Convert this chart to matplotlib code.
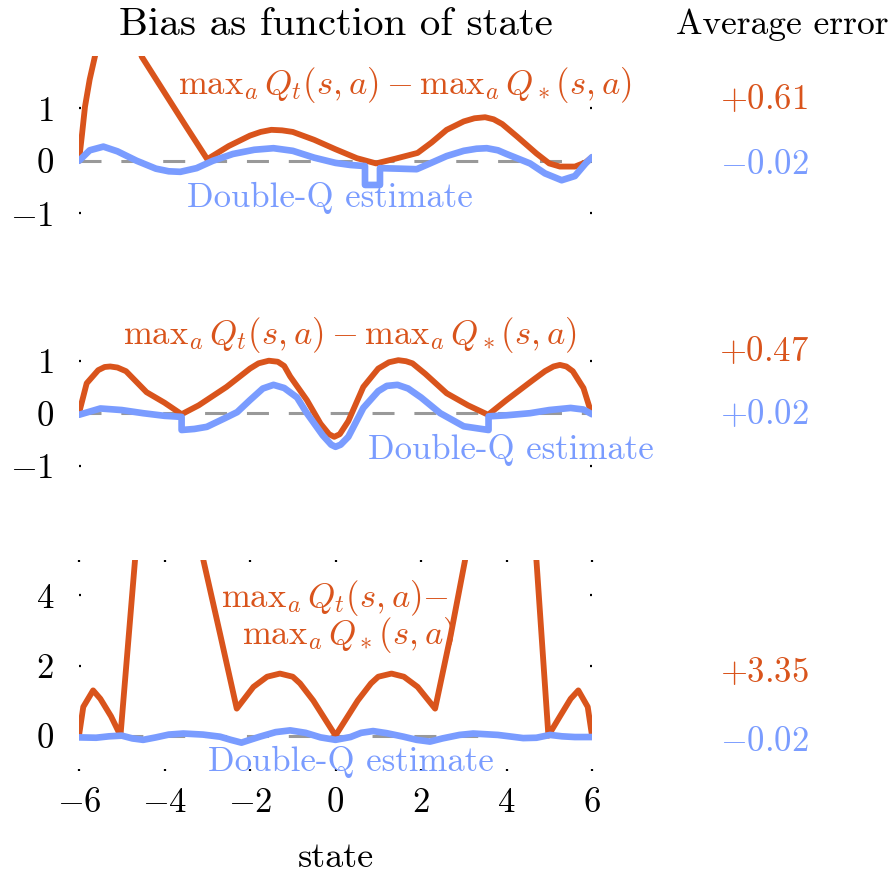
import matplotlib
matplotlib.use('Agg')
import matplotlib.pyplot as plt

plt.rcParams['font.family'] = 'serif'
plt.rcParams['font.serif'] = ['cmr10']
plt.rcParams['mathtext.fontset'] = 'cm'
plt.rcParams['axes.formatter.use_mathtext'] = True
plt.rcParams['axes.unicode_minus'] = True

orange = '#d9541c'
blue = '#7a9cff'

# panel 1 (bias)
x1_orange = [-6.0, -5.93, -5.86, -5.75, -5.63, -5.5, -5.2, -4.9, -4.53, -4.0, -3.5, -3.0, -2.5, -2.0, -1.75, -1.5, -1.25,
             -1.0, -0.5, 0.0, 0.5, 0.95, 1.4, 1.92, 2.25, 2.6, 3.0, 3.25, 3.5, 3.7, 3.9, 4.25, 4.7, 5.0, 5.25, 5.6, 5.85, 6.0]
y1_orange = [0.0, 0.5, 1.03, 1.55, 1.98, 2.4, 3.0, 2.9, 1.98, 1.3, 0.66, 0.03, 0.28, 0.48, 0.55, 0.59, 0.58,
             0.55, 0.4, 0.22, 0.05, -0.05, 0.04, 0.15, 0.35, 0.59, 0.75, 0.81, 0.83, 0.79, 0.7, 0.46, 0.14, -0.05, -0.11, -0.11, -0.03, 0.07]
x1_blue = [-6.0, -5.75, -5.43, -5.1, -4.65, -4.2, -3.9, -3.63, -3.25, -2.87, -2.4, -1.9, -1.45, -1.0, -0.5, 0.0, 0.35,
           0.69, 0.69, 1.04, 1.04, 1.5, 1.9, 2.21, 2.6, 3.0, 3.3, 3.54, 3.8, 4.0, 4.55, 4.9, 5.29, 5.6, 5.85, 6.0]
y1_blue = [0.0, 0.2, 0.27, 0.18, 0.0, -0.15, -0.2, -0.21, -0.14, 0.0, 0.13, 0.21, 0.24, 0.19, 0.06, -0.04, -0.08,
           -0.1, -0.46, -0.46, -0.14, -0.15, -0.16, -0.05, 0.09, 0.19, 0.23, 0.24, 0.2, 0.13, -0.05, -0.24, -0.37, -0.29, -0.05, 0.07]

# panel 2
x2_orange = [-6.0, -5.82, -5.55, -5.4, -5.27, -5.1, -4.9, -4.42, -4.0, -3.6, -3.2, -2.55, -2.0, -1.8, -1.56, -1.35, -1.2,
             -1.06, -0.67, -0.35, -0.15, -0.03, 0.1, 0.3, 0.65, 1.0, 1.25, 1.47, 1.65, 1.8, 2.1, 2.6, 3.1, 3.57, 4.0,
             4.6, 4.9, 5.1, 5.25, 5.4, 5.55, 5.8, 5.95, 6.0]
y2_orange = [0.0, 0.57, 0.82, 0.88, 0.89, 0.87, 0.8, 0.4, 0.2, -0.02, 0.15, 0.5, 0.85, 0.95, 1.0, 0.98, 0.9,
             0.7, 0.25, -0.2, -0.4, -0.45, -0.4, -0.15, 0.5, 0.85, 0.97, 1.01, 0.99, 0.95, 0.75, 0.38, 0.15, -0.03, 0.25,
             0.62, 0.8, 0.89, 0.92, 0.89, 0.8, 0.48, 0.09, 0.03]
x2_blue = [-6.0, -5.5, -5.0, -4.5, -4.0, -3.6, -3.6, -3.3, -3.01, -2.6, -2.3, -2.0, -1.7, -1.45, -1.2, -0.9, -0.67,
           -0.3, -0.1, 0.0, 0.12, 0.3, 0.65, 1.0, 1.2, 1.45, 1.7, 2.0, 2.45, 3.0, 3.58, 3.58, 4.0, 4.55, 5.0, 5.5, 5.8, 6.0]
y2_blue = [-0.03, 0.09, 0.06, 0.0, -0.05, -0.07, -0.32, -0.3, -0.26, -0.1, 0.02, 0.25, 0.47, 0.54, 0.48, 0.3, 0.0,
           -0.42, -0.6, -0.64, -0.6, -0.45, 0.1, 0.42, 0.52, 0.54, 0.47, 0.3, 0.0, -0.25, -0.32, -0.06, -0.04, 0.0, 0.06, 0.1, 0.07, -0.02]

# panel 3
x3_orange = [-6.0, -5.9, -5.67, -5.5, -5.25, -5.03, -4.69, -4.5, -3.8, -3.3, -3.09, -2.7, -2.31, -1.92, -1.6, -1.3,
             -1.0, -0.83, -0.52, -0.26, 0.0, 0.26, 0.52, 0.83, 1.0, 1.31, 1.6, 1.92, 2.33, 2.7, 3.03, 3.3, 3.8,
             4.5, 4.7, 4.98, 5.25, 5.5, 5.68, 5.9, 6.0]
y3_orange = [0.0, 0.82, 1.29, 1.05, 0.55, 0.0, 5.0, 8.0, 12.0, 8.0, 5.0, 2.9, 0.77, 1.39, 1.68, 1.77,
             1.68, 1.49, 1.0, 0.5, 0.0, 0.5, 1.0, 1.49, 1.68, 1.77, 1.68, 1.39, 0.77, 2.9, 5.0, 8.0, 12.0,
             8.0, 5.0, 0.0, 0.55, 1.05, 1.29, 0.82, 0.0]
x3_blue = [-6.0, -5.6, -5.3, -5.0, -4.75, -4.5, -4.2, -3.9, -3.56, -3.1, -2.7, -2.45, -2.2, -2.0, -1.77, -1.4, -1.06,
           -0.7, -0.35, 0.0, 0.35, 0.6, 0.88, 1.2, 1.59, 1.9, 2.21, 2.5, 2.9, 3.22, 3.8, 4.39, 4.7, 5.02, 5.3, 5.6, 6.0]
y3_blue = [-0.05, -0.06, -0.02, 0.0, -0.08, -0.12, -0.05, 0.03, 0.06, 0.03, -0.03, -0.12, -0.2, -0.12, -0.03, 0.1, 0.15,
           0.08, -0.05, -0.12, -0.04, 0.08, 0.13, 0.07, -0.03, -0.12, -0.17, -0.08, 0.02, 0.06, 0.02, -0.07, -0.06, 0.02, -0.02, -0.04, -0.04]

avg_orange = ['+0.61', '+0.47', '+3.35']
avg_blue = ['-0.02', '+0.02', '-0.02']

W, H = 892, 875
fig = plt.figure(figsize=(W / 100, H / 100), dpi=100)
fs = 25

def px(x, y):       # pixel position -> figure fraction
    return x / W, 1 - y / H

def panel(top, bottom, ylim, yticks):
    l, b = px(79, bottom)
    ax = fig.add_axes([l, b, 513 / W, (bottom - top) / H])
    ax.set_xlim(-6, 6)
    ax.set_ylim(*ylim)
    ax.set_yticks(yticks)
    for s in ax.spines.values():
        s.set_visible(False)
    ax.tick_params(axis='y', direction='in', length=1.5, width=1.6, pad=18, labelsize=fs, left=True, right=True)
    ax.axhline(0, color='#999999', lw=2.2, dashes=(7.2, 6.5), zorder=1)
    return ax

ax1 = panel(55.8, 213.3, (-1, 2), [-1, 0, 1])
ax2 = panel(308.2, 465.7, (-1, 2), [-1, 0, 1])
ax3 = panel(560.3, 770.7, (-1, 5), [0, 2, 4])
for ax in (ax1, ax2):
    ax.set_xticks([])

ax3.set_xticks([-6, -4, -2, 0, 2, 4, 6])
ax3.tick_params(axis='x', direction='in', length=1.5, width=1.6, pad=12, labelsize=fs, top=True, bottom=True)

for ax, xo, yo, xb, yb in [(ax1, x1_orange, y1_orange, x1_blue, y1_blue),
                           (ax2, x2_orange, y2_orange, x2_blue, y2_blue),
                           (ax3, x3_orange, y3_orange, x3_blue, y3_blue)]:
    ax.plot(xo, yo, color=orange, lw=4.2, zorder=3, solid_joinstyle='round', solid_capstyle='round')
    ax.plot(xb, yb, color=blue, lw=4.8, zorder=4, solid_joinstyle='round', solid_capstyle='round')

lab = r'$\mathrm{max}_a\, Q_t(s,a) - \mathrm{max}_a\, Q_\ast(s,a)$'
fig.text(*px(405, 85), lab, color=orange, fontsize=fs, ha='center', va='center')
fig.text(*px(330, 198), 'Double-Q estimate', color=blue, fontsize=fs, ha='center', va='center')
fig.text(*px(350, 335), lab, color=orange, fontsize=fs, ha='center', va='center')
fig.text(*px(511, 450), 'Double-Q estimate', color=blue, fontsize=fs, ha='center', va='center')
fig.text(*px(335, 598), r'$\mathrm{max}_a\, Q_t(s,a){-}$', color=orange, fontsize=fs, ha='center', va='center')
fig.text(*px(348, 635), r'$\mathrm{max}_a\, Q_\ast(s,a)$', color=orange, fontsize=fs, ha='center', va='center')
fig.text(*px(351, 762), 'Double-Q estimate', color=blue, fontsize=fs, ha='center', va='center')

# titles and the average error column
fig.text(*px(336, 25), 'Bias as function of state', fontsize=29.5, ha='center', va='center')
fig.text(*px(782, 25), 'Average error', fontsize=fs + 0.5, ha='center', va='center')
fig.text(*px(336, 858), 'state', fontsize=fs + 1, ha='center', va='center')

ys_orange = [100, 352, 673]
ys_blue = [165, 415, 742]
for t, y in zip(avg_orange, ys_orange):
    fig.text(*px(764, y), '$' + t + '$', color=orange, fontsize=fs, ha='center', va='center')
for t, y in zip(avg_blue, ys_blue):
    fig.text(*px(764, y), '$' + t + '$', color=blue, fontsize=fs, ha='center', va='center')

fig.savefig('out.png', dpi=100)
